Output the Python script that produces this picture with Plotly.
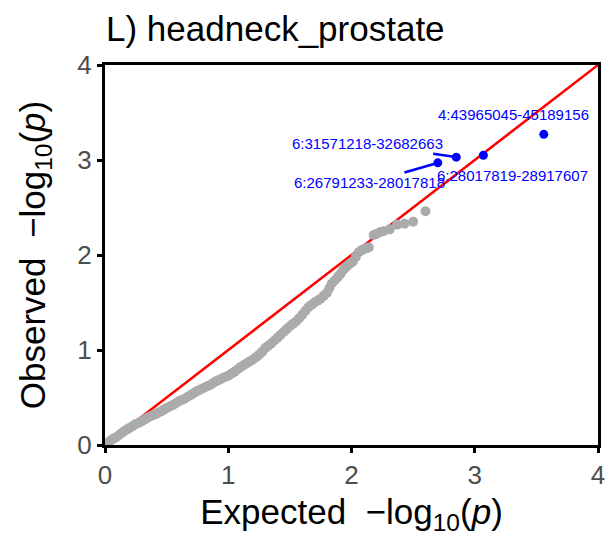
import plotly.graph_objects as go

# Gray QQ points (expected, observed)
expected = [0.00, 0.02, 0.04, 0.06, 0.08, 0.10, 0.125, 0.15, 0.175, 0.20, 0.225, 0.25,
            0.275, 0.30, 0.325, 0.35, 0.375, 0.40, 0.425, 0.45, 0.475, 0.50, 0.525, 0.55,
            0.575, 0.60, 0.625, 0.65, 0.675, 0.70, 0.725, 0.75, 0.775, 0.80, 0.825, 0.85,
            0.875, 0.90, 0.925, 0.95, 0.975, 1.00, 1.025, 1.05, 1.075, 1.10, 1.125, 1.15,
            1.175, 1.20, 1.225, 1.25, 1.275, 1.30, 1.325, 1.35, 1.375, 1.40, 1.425, 1.45,
            1.475, 1.50, 1.525, 1.55, 1.575, 1.60, 1.625, 1.65, 1.675, 1.70, 1.725, 1.75,
            1.775, 1.80, 1.82, 1.84, 1.865, 1.89, 1.91, 1.93, 1.95, 1.97, 1.99, 2.01,
            2.035, 2.06, 2.08, 2.10, 2.12, 2.14, 2.18, 2.20, 2.23, 2.26, 2.31, 2.37,
            2.43, 2.50, 2.60]
observed = [0.00, 0.02, 0.04, 0.06, 0.075, 0.09, 0.115, 0.14, 0.16, 0.18, 0.20, 0.22,
            0.235, 0.25, 0.27, 0.29, 0.305, 0.32, 0.335, 0.35, 0.37, 0.39, 0.405, 0.42,
            0.44, 0.46, 0.475, 0.49, 0.51, 0.53, 0.55, 0.57, 0.585, 0.60, 0.615, 0.63,
            0.65, 0.67, 0.685, 0.70, 0.715, 0.73, 0.75, 0.77, 0.795, 0.82, 0.84, 0.86,
            0.88, 0.90, 0.925, 0.95, 0.98, 1.02, 1.045, 1.07, 1.10, 1.13, 1.16, 1.19,
            1.22, 1.25, 1.275, 1.30, 1.335, 1.37, 1.41, 1.45, 1.475, 1.50, 1.52, 1.54,
            1.57, 1.60, 1.65, 1.70, 1.735, 1.77, 1.80, 1.84, 1.865, 1.89, 1.91, 1.93,
            1.98, 2.03, 2.05, 2.06, 2.07, 2.08, 2.21, 2.22, 2.24, 2.25, 2.27, 2.32,
            2.33, 2.35, 2.46]

# Highlighted regions
hit_labels = ["4:43965045-45189156", "6:28017819-28917607",
              "6:31571218-32682663", "6:26791233-28017818"]
hit_expected = [3.56, 3.07, 2.85, 2.70]
hit_observed = [3.27, 3.05, 3.03, 2.97]

# Diagonal reference
diag = [0, 4]

FONT = "Liberation Sans, Arial, sans-serif"

fig = go.Figure()
fig.add_trace(go.Scatter(x=diag, y=diag, mode="lines",
                         line=dict(color="#FF0000", width=2.5),
                         showlegend=False, hoverinfo="skip"))
fig.add_trace(go.Scatter(x=expected, y=observed, mode="markers",
                         marker=dict(color="#ABABAB", size=10, line=dict(width=0)),
                         showlegend=False))
fig.add_trace(go.Scatter(x=hit_expected, y=hit_observed, mode="markers",
                         marker=dict(color="#0000FF", size=9, line=dict(width=0)),
                         showlegend=False))

lab_font = dict(family=FONT, size=15, color="#0000FF")
fig.add_annotation(x=3.318, y=3.477, text=hit_labels[0], showarrow=False, font=lab_font)
fig.add_annotation(x=3.310, y=2.836, text=hit_labels[1], showarrow=False, font=lab_font)
fig.add_annotation(x=hit_expected[2], y=hit_observed[2], ax=2.126, ay=3.172,
                   axref="x", ayref="y", text=hit_labels[2], showarrow=True,
                   arrowhead=0, arrowwidth=2.5, arrowcolor="#0000FF", standoff=4,
                   font=lab_font)
fig.add_annotation(x=hit_expected[3], y=hit_observed[3], ax=2.150, ay=2.763,
                   axref="x", ayref="y", text=hit_labels[3], showarrow=True,
                   arrowhead=0, arrowwidth=2.5, arrowcolor="#0000FF", standoff=4,
                   font=lab_font)

axis_common = dict(range=[0, 4], tickvals=[0, 1, 2, 3, 4], automargin=False,
                   showline=True, linecolor="black", linewidth=3, mirror=True,
                   ticks="outside", ticklen=5, tickwidth=3, tickcolor="black",
                   showgrid=False, zeroline=False,
                   tickfont=dict(family=FONT, size=26, color="#4D4D4D"))

fig.update_layout(
    width=616, height=536,
    margin=dict(l=105, r=18, t=65, b=91),
    paper_bgcolor="white", plot_bgcolor="white",
    font=dict(family=FONT, color="black"),
    title=dict(text="L) headneck_prostate", x=106 / 616, xanchor="left",
               xref="container", automargin=False,
               y=1 - 29 / 536, yanchor="middle", yref="container",
               font=dict(size=35, color="black")),
    xaxis=dict(**axis_common,
               title=dict(text="Expected\u00a0\u00a0\u2212log<sub>10</sub>(<i>p</i>)",
                          font=dict(size=35, color="black"), standoff=14)),
    yaxis=dict(**axis_common,
               title=dict(text="Observed\u00a0\u00a0\u2212log<sub>10</sub>(<i>p</i>)",
                          font=dict(size=35, color="black"), standoff=22)),
)

fig.write_html("out.html", config={"displayModeBar": False},
               post_script="document.body.style.margin='0';document.body.style.overflow='hidden';")
